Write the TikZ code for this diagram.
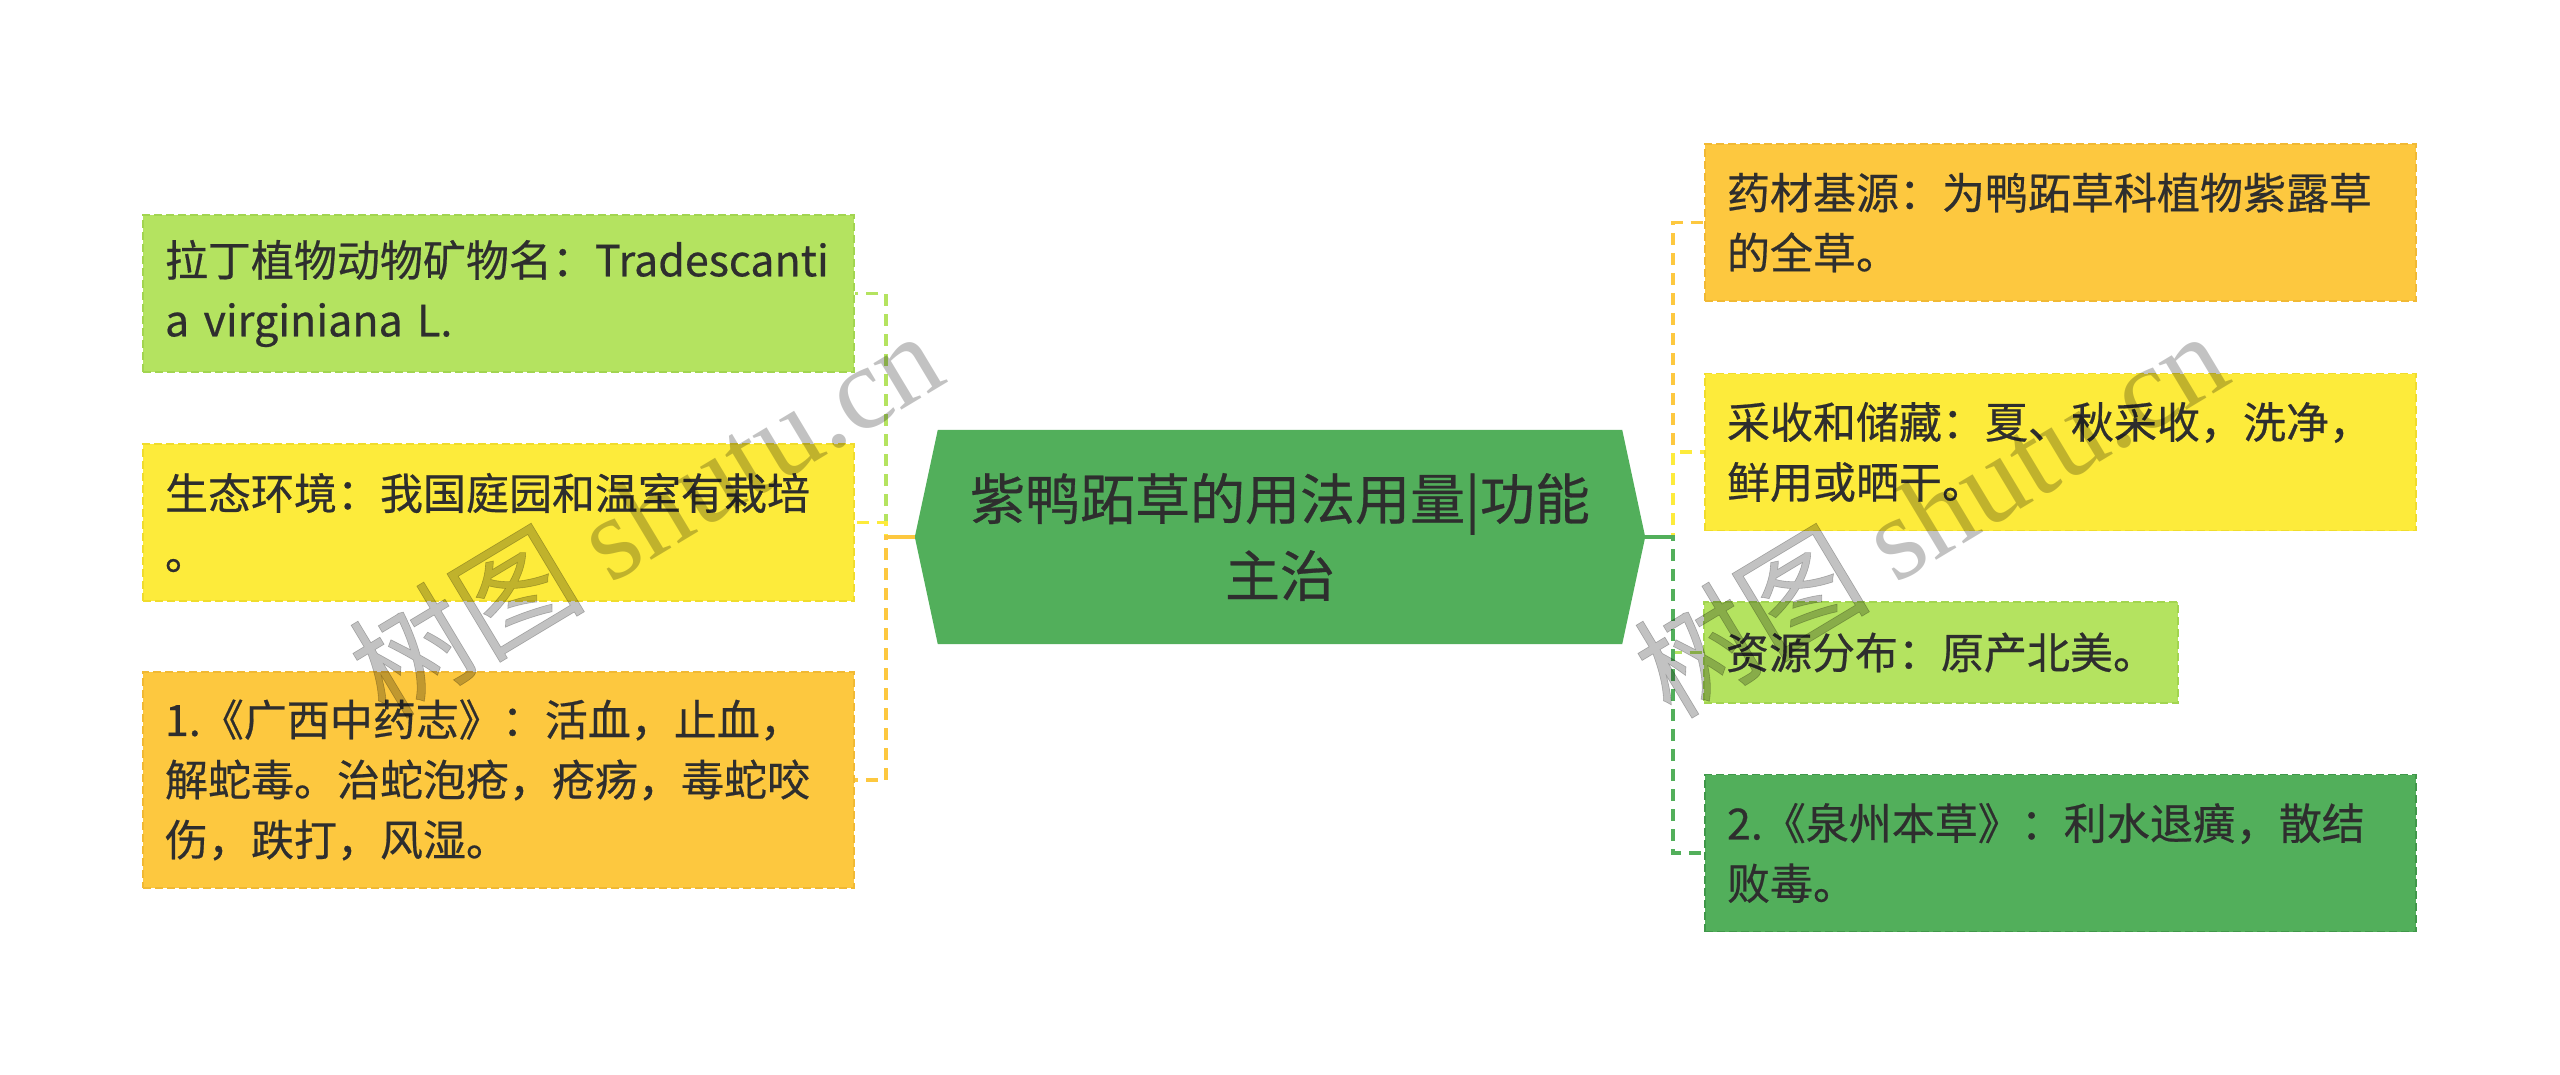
\documentclass[tikz,border=0pt]{standalone}
\usepackage{fontspec}
\setmainfont{Noto Sans CJK SC}[FakeBold=0.5]
\newfontfamily\wmlatin{Liberation Serif}
\definecolor{lg}{HTML}{B4E360}
\definecolor{lgd}{HTML}{A2D550}
\definecolor{ye}{HTML}{FDEB3B}
\definecolor{yed}{HTML}{F0DC2C}
\definecolor{or}{HTML}{FDC83F}
\definecolor{ord}{HTML}{F1B934}
\definecolor{dg}{HTML}{52AF5B}
\definecolor{dgd}{HTML}{40984A}
\definecolor{txt}{HTML}{2E2E2E}
\tikzset{
  x=1pt, y=-1pt,
  box/.style={rectangle, minimum width=711pt, minimum height=157pt, text width=667pt,
    align=left, inner xsep=22pt, inner ysep=0pt, font=\fontsize{43}{60}\selectfont,
    text=txt, line width=1.5pt, dash pattern=on 8pt off 4pt},
  lgbox/.style={box, fill=lg, draw=lgd},
  yebox/.style={box, fill=ye, draw=yed},
  orbox/.style={box, fill=or, draw=ord},
  dgbox/.style={box, fill=dg, draw=dgd},
  conn/.style={line width=3.5pt, dash pattern=on 12pt off 8pt},
  trunk/.style={line width=3.5pt},
  hexbase/.style={rectangle, minimum width=730pt, minimum height=214pt, inner sep=0pt},
  hextext/.style={font=\fontsize{55}{77}\selectfont, text=txt, align=center},
  wm/.style={font=\fontsize{118}{118}\selectfont, text=black, text opacity=0.24, rotate=31}
}
\begin{document}
\begin{tikzpicture}
\useasboundingbox (0,0) rectangle (2560,1075);
\fill[white] (0,0) rectangle (2560,1075);

% central hexagon
\node[hexbase] (c) at (1280,537) {};
\fill[dg] (c.west) -- ([xshift=23pt]c.north west) -- ([xshift=-23pt]c.north east)
  -- (c.east) -- ([xshift=-23pt]c.south east) -- ([xshift=23pt]c.south west) -- cycle;
\node[hextext] (ct) at (c.center) {紫鸭跖草的用法用量|功能\\主治};

% left boxes
\node[lgbox] (L1) at (498.5,293.5) {拉丁植物动物矿物名：Tradescanti\\a virginiana L.};
\node[yebox] (L2) at (498.5,522.5) {生态环境：我国庭园和温室有栽培\\。};
\node[orbox, minimum height=216pt] (L3) at (498.5,780) {1.《广西中药志》：活血，止血，\\解蛇毒。治蛇泡疮，疮疡，毒蛇咬\\伤，跌打，风湿。};

% right boxes
\node[orbox] (R1) at (2060.5,222.5) {药材基源：为鸭跖草科植物紫露草\\的全草。};
\node[yebox] (R2) at (2060.5,452) {采收和储藏：夏、秋采收，洗净，\\鲜用或晒干。};
\node[lgbox, minimum width=474pt, text width=430pt, minimum height=101pt] (R3) at (1941,652.5) {资源分布：原产北美。};
\node[dgbox] (R4) at (2060.5,853) {2.《泉州本草》：利水退癀，散结\\败毒。};

% connectors left
\draw[conn, draw=lg] (c.west) -- ++(-29,0) |- (L1.east);
\draw[conn, draw=ye] (c.west) -- ++(-29,0) |- (L2.east);
\draw[conn, draw=or] (c.west) -- ++(-29,0) |- (L3.east);
\draw[trunk, draw=or] (c.west) -- ++(-29,0);

% connectors right
\draw[conn, draw=or] (c.east) -- ++(28,0) |- (R1.west);
\draw[conn, draw=ye] (c.east) -- ++(28,0) |- (R2.west);
\draw[conn, draw=lg] (c.east) -- ++(28,0) |- (R3.west);
\draw[conn, draw=dg] (c.east) -- ++(28,0) |- (R4.west);
\draw[trunk, draw=dg] (c.east) -- ++(28,0);

% watermarks
\node[wm] (w1) at (645,512) {树图 {\wmlatin shutu.cn}};
\node[wm] (w2) at (1930,512) {树图 {\wmlatin shutu.cn}};
\end{tikzpicture}
\end{document}
